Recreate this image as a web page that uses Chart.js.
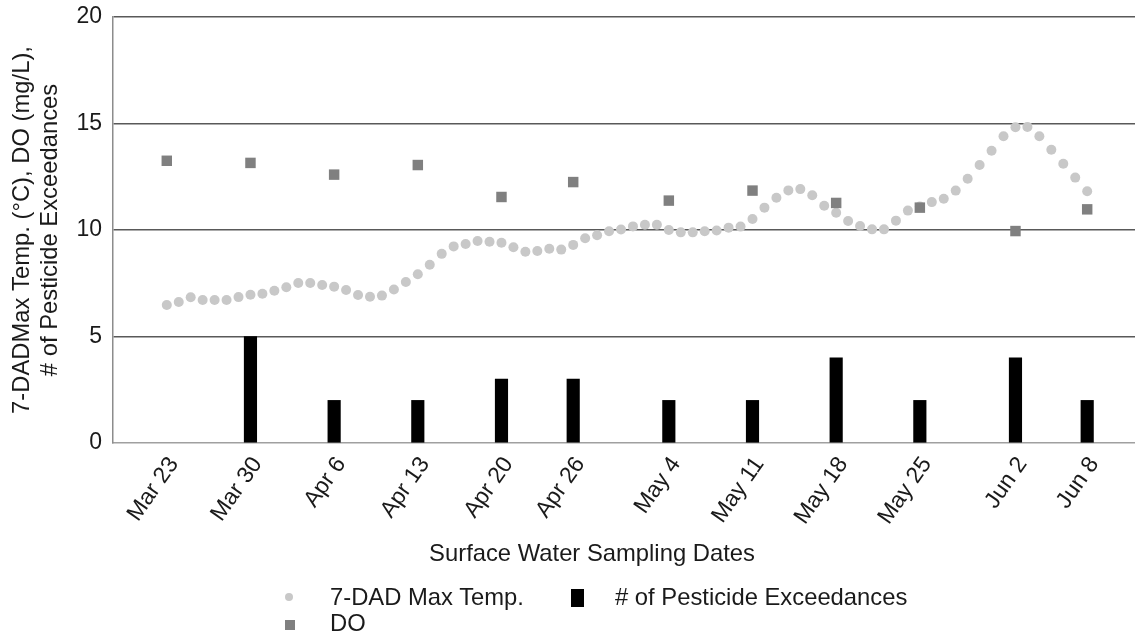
<!DOCTYPE html>
<html>
<head>
<meta charset="utf-8">
<script src="https://cdn.jsdelivr.net/npm/chart.js@4.4.1/dist/chart.umd.min.js"></script>
<style>
  body { margin: 0; background: #fff; }
  #wrap { position: relative; width: 1135px; height: 632px; font-family: 'Liberation Sans', Arial, sans-serif; color: #1a1a1a; }
  #wrap canvas { position: absolute; left: 0; top: 0; }
  .txt { position: absolute; font-size: 23.8px; line-height: 28px; white-space: nowrap; }
  .mk { position: absolute; }
</style>
</head>
<body>
<div id="wrap">
  <canvas id="chart" width="1135" height="632"></canvas>
  <div class="txt" style="left:292px; top:539px; width:600px; text-align:center;">Surface Water Sampling Dates</div>
  <div class="mk" style="left:285px; top:593px; width:8px; height:8px; border-radius:50%; background:#c8c8c8;"></div>
  <div class="txt" style="left:330px; top:583px;">7-DAD Max Temp.</div>
  <div class="mk" style="left:571px; top:589px; width:12.5px; height:18px; background:#000;"></div>
  <div class="txt" style="left:615px; top:583px;">&#35; of Pesticide Exceedances</div>
  <div class="mk" style="left:285px; top:620px; width:10px; height:10px; background:#808080;"></div>
  <div class="txt" style="left:330px; top:609px;">DO</div>
</div>
<script>
// days counted from Mar 23
const sampleDays = [0, 7, 14, 21, 28, 34, 42, 49, 56, 63, 71, 77];
const sampleLabels = ['Mar 23', 'Mar 30', 'Apr 6', 'Apr 13', 'Apr 20', 'Apr 26', 'May 4', 'May 11', 'May 18', 'May 25', 'Jun 2', 'Jun 8'];
const doValues = [13.25, 13.15, 12.6, 13.05, 11.55, 12.25, 11.38, 11.85, 11.27, 11.05, 9.95, 10.97];
const exceedances = [0, 5, 2, 2, 3, 3, 2, 2, 4, 2, 4, 2];

// 7-DAD max temp, one value per day from Mar 23 to Jun 8
const tempValues = [
  6.48, 6.62, 6.84, 6.71, 6.71, 6.71, 6.85, 6.96, 7.01, 7.15,
  7.31, 7.51, 7.51, 7.42, 7.34, 7.18, 6.95, 6.87, 6.92, 7.21,
  7.56, 7.92, 8.37, 8.88, 9.23, 9.34, 9.48, 9.45, 9.40, 9.19,
  8.98, 9.01, 9.12, 9.08, 9.30, 9.61, 9.75, 9.94, 10.02, 10.17,
  10.25, 10.25, 10.0, 9.89, 9.89, 9.94, 9.98, 10.11, 10.16, 10.52,
  11.05, 11.51, 11.86, 11.92, 11.63, 11.14, 10.81, 10.42, 10.19, 10.03,
  10.03, 10.44, 10.91, 11.1, 11.31, 11.47, 11.85, 12.41, 13.05, 13.72,
  14.40, 14.82, 14.84, 14.40, 13.77, 13.11, 12.46, 11.82
];

const yTicks = [0, 5, 10, 15, 20];
const tickFont = { family: "'Liberation Sans', Arial, sans-serif", size: 23 };
const titleFont = { family: "'Liberation Sans', Arial, sans-serif", size: 23.8 };

new Chart(document.getElementById('chart'), {
  data: {
    datasets: [
      {
        type: 'scatter',
        label: 'DO',
        data: sampleDays.map((d, i) => ({ x: d, y: doValues[i] })),
        pointStyle: 'rect',
        pointRadius: 7.4,
        backgroundColor: '#808080',
        borderWidth: 0,
        order: 0,
      },
      {
        type: 'scatter',
        label: '7-DAD Max Temp.',
        data: tempValues.map((v, i) => ({ x: i, y: v })),
        pointRadius: 5,
        backgroundColor: '#c8c8c8',
        borderWidth: 0,
        order: 1,
      },
      {
        type: 'bar',
        label: '# of Pesticide Exceedances',
        data: sampleDays.map((d, i) => ({ x: d, y: exceedances[i] })),
        backgroundColor: (c) => (c.raw && c.raw.y === 0 ? 'rgba(0,0,0,0)' : '#000'),
        barThickness: 12.5,
        order: 2,
      },
    ],
  },
  options: {
    responsive: false,
    devicePixelRatio: 1,
    animation: false,
    layout: { autoPadding: false, padding: { top: 17, right: 0, bottom: 0, left: 0 } },
    plugins: { legend: { display: false }, tooltip: { enabled: false } },
    scales: {
      x: {
        type: 'linear',
        min: -4.5,
        max: 81,
        offset: false,
        afterBuildTicks: (s) => { s.ticks = sampleDays.map((v) => ({ value: v })); },
        afterFit: (s) => { s.height = 189; s.paddingLeft = 0; s.paddingRight = 0; },
        grid: { display: false },
        border: { color: '#a0a0a0', width: 1.5 },
        ticks: {
          autoSkip: false,
          minRotation: 55,
          maxRotation: 55,
          padding: 1,
          labelOffset: 7,
          color: '#1a1a1a',
          font: tickFont,
          callback: (v) => sampleLabels[sampleDays.indexOf(v)],
        },
      },
      y: {
        min: 0,
        max: 20,
        afterBuildTicks: (s) => { s.ticks = yTicks.map((v) => ({ value: v })); },
        afterFit: (s) => { s.width = 113; s.paddingTop = 0; },
        grid: {
          drawTicks: false,
          color: (c) => (c.tick && c.tick.value === 0 ? 'rgba(0,0,0,0)' : '#595959'),
          lineWidth: 1.5,
        },
        border: { color: '#8c8c8c', width: 1.5 },
        ticks: { padding: 11, color: '#1a1a1a', font: tickFont },
        title: {
          display: true,
          text: ['7-DADMax Temp. (\u00B0C), DO (mg/L),', '# of Pesticide Exceedances'],
          color: '#1a1a1a',
          font: titleFont,
          padding: { top: 8, bottom: 0 },
        },
      },
    },
  },
});
</script>
</body>
</html>
